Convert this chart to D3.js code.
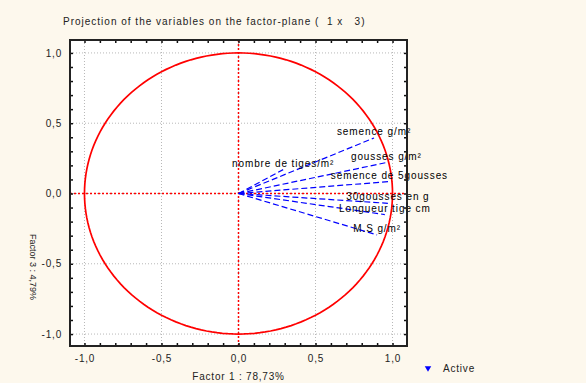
<!DOCTYPE html>
<html>
<head>
<meta charset="utf-8">
<script src="https://cdn.jsdelivr.net/npm/d3@7"></script>
<style>
  body { margin: 0; background: #fdf8ed; }
  svg { display: block; }
  text { font-family: Arial, 'Liberation Sans', sans-serif; fill: #222; }
</style>
</head>
<body>
<div id="chart"></div>
<script>
// variables projected on factor plane (1 x 3)
const variables = [
  'semence g/m²',
  'gousses g/m²',
  'nombre de tiges/m²',
  'semence de 5gousses',
  '30gousses en g',
  'Longueur tige cm',
  'M.S g/m²'
];
const factor1 = [0.88, 0.96, 0.29, 0.98, 0.97, 0.95, 0.90];
const factor3 = [0.395, 0.22, 0.17, 0.085, -0.07, -0.15, -0.295];

const majorTicks = [-1, -0.5, 0, 0.5, 1];
const minorTicks = d3.range(-10, 11).map(d => d / 10);

const width = 586;
const height = 383;
const plot = { left: 70, right: 407, top: 40, bottom: 346 };

const svg = d3.select('#chart')
  .append('svg')
  .attr('width', width)
  .attr('height', height);

svg.append('rect')
  .attr('width', width)
  .attr('height', height)
  .attr('fill', '#fdf8ed');

/* Scales */
const xScale = d3.scaleLinear()
  .domain([-1.094, 1.094])
  .range([plot.left, plot.right]);

const yScale = d3.scaleLinear()
  .domain([-1.085, 1.092])
  .range([plot.bottom, plot.top]);

const fmt = d => d3.format('.1f')(d).replace('.', ',').replace('−', '-');

/* Plot background */
svg.append('rect')
  .attr('x', plot.left)
  .attr('y', plot.top)
  .attr('width', plot.right - plot.left)
  .attr('height', plot.bottom - plot.top)
  .attr('fill', '#fff');

/* Grid */
const grid = svg.append('g')
  .attr('stroke', '#b8b8b8')
  .attr('stroke-width', 1)
  .attr('stroke-dasharray', '1,2');

grid.selectAll('.gx')
  .data(majorTicks)
  .enter()
  .append('line')
  .attr('x1', d => xScale(d))
  .attr('x2', d => xScale(d))
  .attr('y1', plot.top)
  .attr('y2', plot.bottom);

grid.selectAll('.gy')
  .data(majorTicks)
  .enter()
  .append('line')
  .attr('y1', d => yScale(d))
  .attr('y2', d => yScale(d))
  .attr('x1', plot.left)
  .attr('x2', plot.right);

/* Red zero lines */
const zero = svg.append('g')
  .attr('stroke', '#ff0000')
  .attr('stroke-width', 1.5)
  .attr('stroke-dasharray', '2,2');

zero.append('line')
  .attr('x1', xScale(0)).attr('x2', xScale(0))
  .attr('y1', plot.top).attr('y2', plot.bottom);

zero.append('line')
  .attr('y1', yScale(0)).attr('y2', yScale(0))
  .attr('x1', plot.left).attr('x2', plot.right);

/* Unit circle */
const angles = d3.range(0, 361, 2).map(a => a * Math.PI / 180);
const circleLine = d3.line()
  .x(a => xScale(Math.cos(a)))
  .y(a => yScale(Math.sin(a)));

svg.append('path')
  .attr('d', circleLine(angles))
  .attr('fill', 'none')
  .attr('stroke', '#ff0000')
  .attr('stroke-width', 1.7);

/* Variable vectors */
const vectors = svg.append('g');

vectors.selectAll('line')
  .data(variables)
  .enter()
  .append('line')
  .attr('x1', xScale(0))
  .attr('y1', yScale(0))
  .attr('x2', (d, i) => xScale(factor1[i]))
  .attr('y2', (d, i) => yScale(factor3[i]))
  .attr('stroke', '#0000ff')
  .attr('stroke-width', 1.2)
  .attr('stroke-dasharray', '6,3');

vectors.selectAll('text')
  .data(variables)
  .enter()
  .append('text')
  .attr('x', (d, i) => xScale(factor1[i]))
  .attr('y', (d, i) => yScale(factor3[i]) - 3)
  .attr('text-anchor', 'middle')
  .style('font-size', '10px')
  .style('letter-spacing', '0.9px')
  .style('fill', '#000')
  .text(d => d);

/* Inner ticks on all sides */
const tickLen = 3;
const tickAxes = [
  { axis: d3.axisBottom(xScale), t: `translate(0,${plot.bottom})` },
  { axis: d3.axisTop(xScale), t: `translate(0,${plot.top})` },
  { axis: d3.axisLeft(yScale), t: `translate(${plot.left},0)` },
  { axis: d3.axisRight(yScale), t: `translate(${plot.right},0)` }
];
tickAxes.forEach(a => {
  const g = svg.append('g')
    .attr('transform', a.t)
    .call(a.axis.tickValues(minorTicks).tickSizeInner(-tickLen).tickSizeOuter(0).tickFormat(''));
  g.select('.domain').remove();
  g.selectAll('line').attr('stroke', '#111').attr('stroke-width', 1.5);
});

/* Tick labels */
const xLab = svg.append('g')
  .attr('transform', `translate(0,${plot.bottom})`)
  .call(d3.axisBottom(xScale).tickValues(majorTicks).tickSize(0).tickPadding(9).tickFormat(fmt));
xLab.select('.domain').remove();
xLab.selectAll('text')
  .style('font-size', '10px')
  .style('font-family', 'Arial, Liberation Sans, sans-serif')
  .style('letter-spacing', '0.8px')
  .attr('fill', '#333');

const yLab = svg.append('g')
  .attr('transform', `translate(${plot.left},0)`)
  .call(d3.axisLeft(yScale).tickValues(majorTicks).tickSize(0).tickPadding(8).tickFormat(fmt));
yLab.select('.domain').remove();
yLab.selectAll('text')
  .style('font-size', '10px')
  .style('font-family', 'Arial, Liberation Sans, sans-serif')
  .style('letter-spacing', '0.8px')
  .attr('fill', '#333');

/* Frame */
svg.append('rect')
  .attr('x', plot.left)
  .attr('y', plot.top)
  .attr('width', plot.right - plot.left)
  .attr('height', plot.bottom - plot.top)
  .attr('fill', 'none')
  .attr('stroke', '#222')
  .attr('stroke-width', 2);

/* Title & axis titles */
svg.append('text')
  .attr('x', 63)
  .attr('y', 25)
  .style('font-size', '10px')
  .style('letter-spacing', '1px')
  .style('white-space', 'pre')
  .text('Projection of the variables on the factor-plane (  1 x   3)');

svg.append('text')
  .attr('x', xScale(0))
  .attr('y', 380)
  .attr('text-anchor', 'middle')
  .style('font-size', '10px')
  .style('letter-spacing', '0.8px')
  .text('Factor 1 : 78,73%');

svg.append('text')
  .attr('transform', `translate(30,267) rotate(90)`)
  .attr('text-anchor', 'middle')
  .style('font-size', '9px')
  .style('letter-spacing', '0px')
  .text('Factor 3 : 4,79%');

/* Legend */
svg.append('path')
  .attr('d', d3.symbol().type(d3.symbolTriangle).size(18)())
  .attr('transform', 'translate(428,368) rotate(180)')
  .attr('fill', '#0000ff');

svg.append('text')
  .attr('x', 443)
  .attr('y', 372)
  .style('font-size', '10px')
  .style('letter-spacing', '0.8px')
  .text('Active');
</script>
</body>
</html>
